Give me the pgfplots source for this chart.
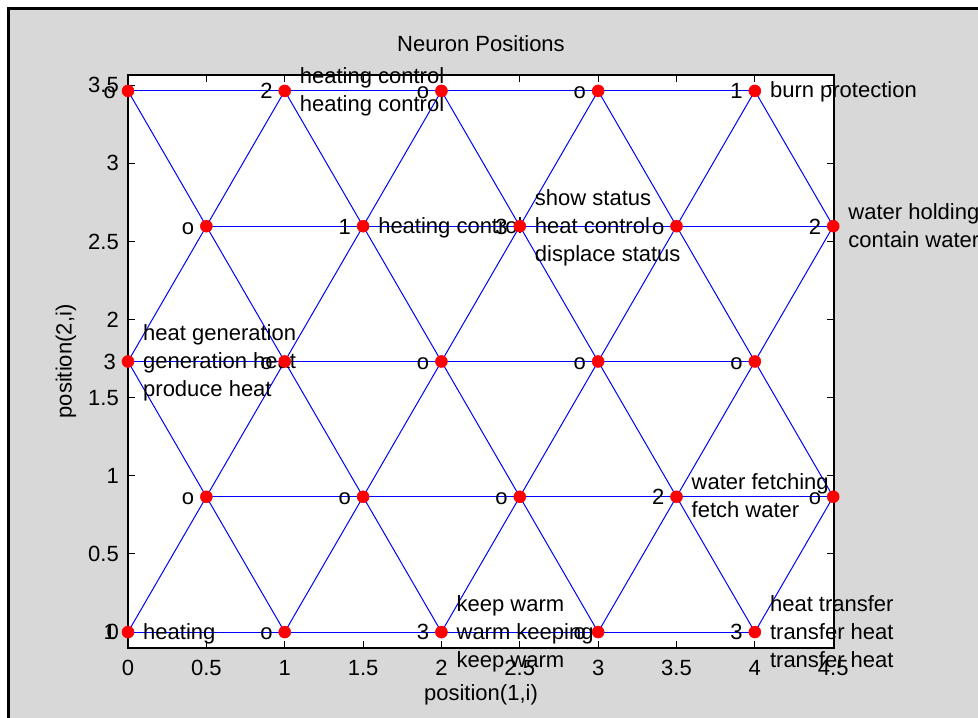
\documentclass[border=0pt]{standalone}
\usepackage{pgfplots}
\pgfplotsset{compat=1.18}
\usepackage{fontspec}
\setmainfont{Liberation Sans}
\definecolor{figgray}{RGB}{216,216,216}
\tikzset{
  cnt/.style={anchor=east, inner sep=0pt, xshift=-12pt, text height=15.8pt, text depth=0pt},
  dsc/.style={anchor=base west, inner sep=0pt, xshift=15pt},
}
\begin{document}
\fontsize{22}{28}\selectfont
\begin{tikzpicture}
\fill[white] (-128pt,-70pt) rectangle (850pt,648pt);
\fill[black] (-121pt,-70pt) rectangle (850pt,641pt);
\fill[figgray] (-118pt,-70pt) rectangle (850pt,638pt);
\begin{axis}[
  at={(0pt,0pt)}, anchor=south west,
  scale only axis, width=706pt, height=573pt,
  xmin=0, xmax=4.505, ymin=-0.102, ymax=3.566,
  xtick={0,0.5,1,1.5,2,2.5,3,3.5,4,4.5},
  ytick={0,0.5,1,1.5,2,2.5,3,3.5},
  tick align=inside, major tick length=7pt,
  axis background/.style={fill=white},
  axis line style={black, line width=1.5pt},
  every tick/.style={black, line width=1pt},
  clip=false,
  /pgf/number format/assume math mode=true,
  xticklabel style={anchor=north, inner sep=0pt, yshift=-12pt},
  yticklabel style={anchor=east, inner sep=0pt, xshift=-9pt},
  title={Neuron Positions},
  title style={at={(axis description cs:0.5,1.0436)}, anchor=center, inner sep=0pt},
  xlabel={position(1,i)},
  xlabel style={at={(axis description cs:0.5,-0.082)}, anchor=center, inner sep=0pt},
  ylabel={position(2,i)},
  ylabel style={at={(axis description cs:-0.0878,0.5)}, anchor=center, inner sep=0pt},
]
% horizontal links
\addplot[blue, line width=1pt] coordinates {(0,0) (1,0) (2,0) (3,0) (4,0)};
\addplot[blue, line width=1pt] coordinates {(0.5,0.866025) (1.5,0.866025) (2.5,0.866025) (3.5,0.866025) (4.5,0.866025)};
\addplot[blue, line width=1pt] coordinates {(0,1.732051) (1,1.732051) (2,1.732051) (3,1.732051) (4,1.732051)};
\addplot[blue, line width=1pt] coordinates {(0.5,2.598076) (1.5,2.598076) (2.5,2.598076) (3.5,2.598076) (4.5,2.598076)};
\addplot[blue, line width=1pt] coordinates {(0,3.464102) (1,3.464102) (2,3.464102) (3,3.464102) (4,3.464102)};
% rising diagonal links
\addplot[blue, line width=1pt] coordinates {(0,1.732051) (0.5,2.598076) (1,3.464102)};
\addplot[blue, line width=1pt] coordinates {(0,0) (0.5,0.866025) (1,1.732051) (1.5,2.598076) (2,3.464102)};
\addplot[blue, line width=1pt] coordinates {(1,0) (1.5,0.866025) (2,1.732051) (2.5,2.598076) (3,3.464102)};
\addplot[blue, line width=1pt] coordinates {(2,0) (2.5,0.866025) (3,1.732051) (3.5,2.598076) (4,3.464102)};
\addplot[blue, line width=1pt] coordinates {(3,0) (3.5,0.866025) (4,1.732051) (4.5,2.598076)};
\addplot[blue, line width=1pt] coordinates {(4,0) (4.5,0.866025)};
% falling diagonal links
\addplot[blue, line width=1pt] coordinates {(1,0) (0.5,0.866025) (0,1.732051)};
\addplot[blue, line width=1pt] coordinates {(2,0) (1.5,0.866025) (1,1.732051) (0.5,2.598076) (0,3.464102)};
\addplot[blue, line width=1pt] coordinates {(3,0) (2.5,0.866025) (2,1.732051) (1.5,2.598076) (1,3.464102)};
\addplot[blue, line width=1pt] coordinates {(4,0) (3.5,0.866025) (3,1.732051) (2.5,2.598076) (2,3.464102)};
\addplot[blue, line width=1pt] coordinates {(4.5,0.866025) (4,1.732051) (3.5,2.598076) (3,3.464102)};
\addplot[blue, line width=1pt] coordinates {(4.5,2.598076) (4,3.464102)};
% neurons
\addplot[only marks, mark=*, mark size=6pt, mark options={fill=red, draw=red, line width=0.5pt}] coordinates {
(0,0) (1,0) (2,0) (3,0) (4,0)
(0.5,0.866025) (1.5,0.866025) (2.5,0.866025) (3.5,0.866025) (4.5,0.866025)
(0,1.732051) (1,1.732051) (2,1.732051) (3,1.732051) (4,1.732051)
(0.5,2.598076) (1.5,2.598076) (2.5,2.598076) (3.5,2.598076) (4.5,2.598076)
(0,3.464102) (1,3.464102) (2,3.464102) (3,3.464102) (4,3.464102)
};
% hit counts
\node[cnt] at (axis cs:0,3.464102) {o};
\node[cnt] at (axis cs:1,3.464102) {2};
\node[cnt] at (axis cs:2,3.464102) {o};
\node[cnt] at (axis cs:3,3.464102) {o};
\node[cnt] at (axis cs:4,3.464102) {1};
\node[cnt] at (axis cs:0.5,2.598076) {o};
\node[cnt] at (axis cs:1.5,2.598076) {1};
\node[cnt] at (axis cs:2.5,2.598076) {3};
\node[cnt] at (axis cs:3.5,2.598076) {o};
\node[cnt] at (axis cs:4.5,2.598076) {2};
\node[cnt] at (axis cs:0,1.732051) {3};
\node[cnt] at (axis cs:1,1.732051) {o};
\node[cnt] at (axis cs:2,1.732051) {o};
\node[cnt] at (axis cs:3,1.732051) {o};
\node[cnt] at (axis cs:4,1.732051) {o};
\node[cnt] at (axis cs:0.5,0.866025) {o};
\node[cnt] at (axis cs:1.5,0.866025) {o};
\node[cnt] at (axis cs:2.5,0.866025) {o};
\node[cnt] at (axis cs:3.5,0.866025) {2};
\node[cnt] at (axis cs:4.5,0.866025) {o};
\node[cnt] at (axis cs:0,0) {1};
\node[cnt] at (axis cs:1,0) {o};
\node[cnt] at (axis cs:2,0) {3};
\node[cnt] at (axis cs:3,0) {o};
\node[cnt] at (axis cs:4,0) {3};
% descriptions
\node[dsc, yshift=7pt] at (axis cs:1,3.464102) {heating control};
\node[dsc, yshift=-21pt] at (axis cs:1,3.464102) {heating control};
\node[dsc, yshift=-7pt] at (axis cs:4,3.464102) {burn protection};
\node[dsc, yshift=-7pt] at (axis cs:1.5,2.598076) {heating control};
\node[dsc, yshift=21pt] at (axis cs:2.5,2.598076) {show status};
\node[dsc, yshift=-7pt] at (axis cs:2.5,2.598076) {heat control};
\node[dsc, yshift=-35pt] at (axis cs:2.5,2.598076) {displace status};
\node[dsc, yshift=7pt] at (axis cs:4.5,2.598076) {water holding};
\node[dsc, yshift=-21pt] at (axis cs:4.5,2.598076) {contain water};
\node[dsc, yshift=21pt] at (axis cs:0,1.732051) {heat generation};
\node[dsc, yshift=-7pt] at (axis cs:0,1.732051) {generation heat};
\node[dsc, yshift=-35pt] at (axis cs:0,1.732051) {produce heat};
\node[dsc, yshift=7pt] at (axis cs:3.5,0.866025) {water fetching};
\node[dsc, yshift=-21pt] at (axis cs:3.5,0.866025) {fetch water};
\node[dsc, yshift=-7pt] at (axis cs:0,0) {heating};
\node[dsc, yshift=21pt] at (axis cs:2,0) {keep warm};
\node[dsc, yshift=-7pt] at (axis cs:2,0) {warm keeping};
\node[dsc, yshift=-35pt] at (axis cs:2,0) {keep warm};
\node[dsc, yshift=21pt] at (axis cs:4,0) {heat transfer};
\node[dsc, yshift=-7pt] at (axis cs:4,0) {transfer heat};
\node[dsc, yshift=-35pt] at (axis cs:4,0) {transfer heat};
\end{axis}
\pgfresetboundingbox
\path[use as bounding box] (-128pt,-70pt) rectangle (850pt,648pt);
\end{tikzpicture}
\end{document}
